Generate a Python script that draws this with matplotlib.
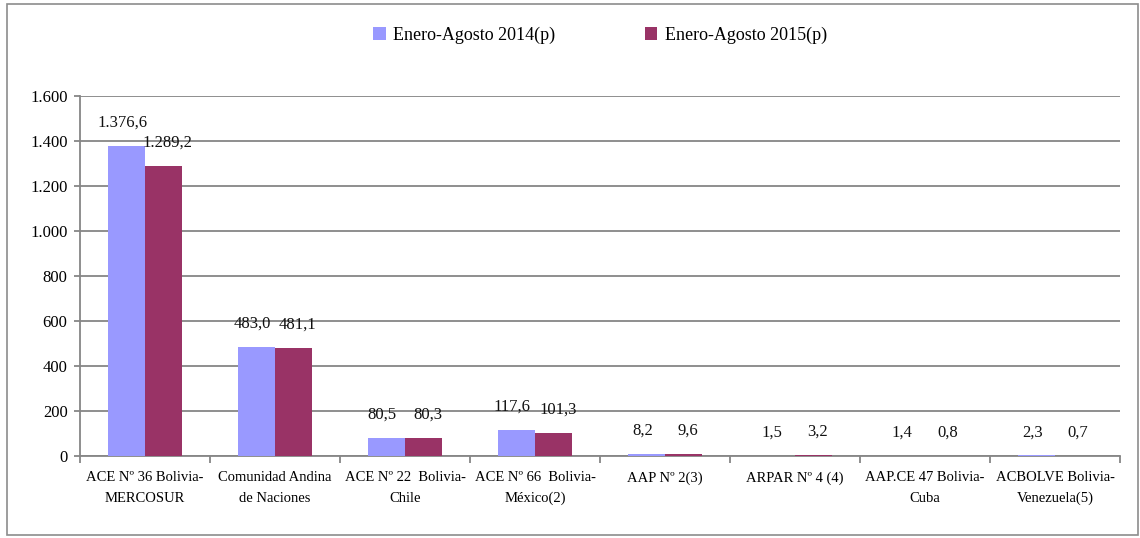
import matplotlib
matplotlib.use("Agg")
import matplotlib.pyplot as plt
from matplotlib.patches import Rectangle
from matplotlib.ticker import FixedLocator, FuncFormatter
import numpy as np

categories = [
    "ACE Nº 36 Bolivia-\nMERCOSUR",
    "Comunidad Andina\nde Naciones",
    "ACE Nº 22  Bolivia-\nChile",
    "ACE Nº 66  Bolivia-\nMéxico(2)",
    "AAP Nº 2(3)",
    "ARPAR Nº 4 (4)",
    "AAP.CE 47 Bolivia-\nCuba",
    "ACBOLVE Bolivia-\nVenezuela(5)",
]
series_names = ["Enero-Agosto 2014(p)", "Enero-Agosto 2015(p)"]
values_2014 = [1376.6, 483.0, 80.5, 117.6, 8.2, 1.5, 1.4, 2.3]
values_2015 = [1289.2, 481.1, 80.3, 101.3, 9.6, 3.2, 0.8, 0.7]
y_ticks = [0, 200, 400, 600, 800, 1000, 1200, 1400, 1600]

colors = ["#9999FF", "#993366"]
FONT = "Liberation Serif"
plt.rcParams["font.family"] = [FONT, "DejaVu Serif"]


def es_num(v, dec=1):
    s = f"{v:,.{dec}f}"
    return s.replace(",", "X").replace(".", ",").replace("X", ".")


fig = plt.figure(figsize=(11.4, 5.38), dpi=100)
W, H = 1140, 538
fig.patches.append(Rectangle((7 / W, 1 - 535 / H), (1138 - 7) / W, (535 - 4) / H,
                             transform=fig.transFigure, fill=False,
                             edgecolor="#8c8c8c", linewidth=1.2))

ax = fig.add_axes([80 / W, 1 - 456 / H, (1120 - 80) / W, (456 - 96) / H])

n = len(categories)
x = np.arange(n)
bw = 1 / 3.5
for i, (vals, name) in enumerate(zip([values_2014, values_2015], series_names)):
    pos = x + (i - 0.5) * bw
    ax.bar(pos, vals, width=bw, color=colors[i], label=name, zorder=3)
    dx = -3 if i == 0 else 3
    for px, v in zip(pos, vals):
        ax.annotate(es_num(v), (px, v), xytext=(dx, 11), textcoords="offset points",
                    ha="center", va="bottom", fontsize=12, color="#111111", zorder=4)

ax.set_xlim(-0.5, n - 0.5)
ax.set_ylim(0, 1600)
ax.yaxis.set_major_locator(FixedLocator(y_ticks))
ax.yaxis.set_major_formatter(FuncFormatter(lambda v, p: es_num(v, 0)))
ax.grid(axis="y", color="#868686", linewidth=1.3, zorder=0)
ax.set_axisbelow(True)

ax.set_xticks(x)
ax.set_xticklabels(categories, fontsize=10.5, linespacing=1.75)
ax.set_xticks(np.arange(-0.5, n, 1.0), minor=True)
ax.tick_params(axis="x", which="major", length=0, pad=11)
ax.tick_params(axis="x", which="minor", length=5, color="#868686", width=1.3, direction="out")
ax.tick_params(axis="y", length=4, color="#868686", width=1.3, pad=5, labelsize=12)

for s in ["top", "right"]:
    ax.spines[s].set_visible(False)
for s in ["left", "bottom"]:
    ax.spines[s].set_color("#868686")
    ax.spines[s].set_linewidth(1.3)

leg = fig.legend(loc="center", bbox_to_anchor=(600 / W, 1 - 35 / H), ncol=2,
                 frameon=False, fontsize=13, handlelength=0.7, handleheight=0.7,
                 handletextpad=0.4, columnspacing=4.95)

fig.savefig("out.png", dpi=100)
